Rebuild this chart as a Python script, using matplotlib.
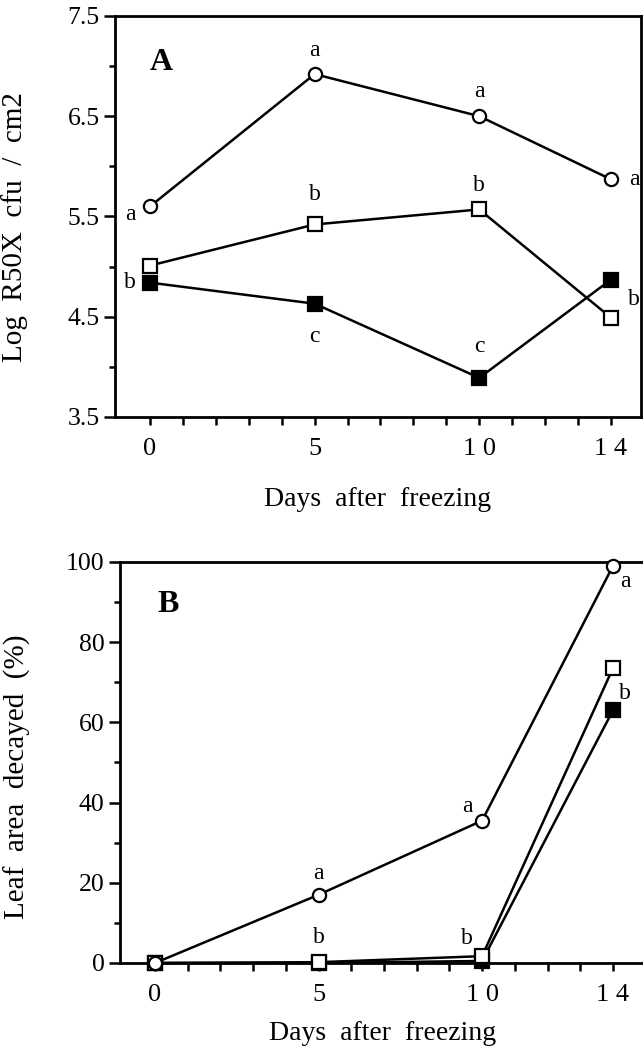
import matplotlib
matplotlib.use("Agg")
import matplotlib.pyplot as plt
import numpy as np

plt.rcParams['font.family'] = ['Liberation Serif', 'DejaVu Serif']

days = [0, 5, 10, 14]

# panel A: log R50X cfu / cm2
a_circle = [5.60, 6.92, 6.50, 5.87]
a_open_sq = [5.01, 5.42, 5.57, 4.49]
a_filled_sq = [4.84, 4.63, 3.89, 4.87]

# panel B: leaf area decayed (%)
b_circle = [0, 17, 35.5, 99]
b_open_sq = [0, 0.2, 1.7, 73.5]
b_filled_sq = [0, 0, 0.5, 63]

# significance letters
a_circle_letters = ['a', 'a', 'a', 'a']
a_open_letters = ['', 'b', 'b', 'b']
a_filled_letters = ['b', 'c', 'c', '']
b_circle_letters = ['', 'a', 'a', 'a']
b_open_letters = ['', 'b', 'b', '']
b_filled_letters = ['', '', '', 'b']

xtick_pos = list(range(15))
xtick_labels = ['0', '', '', '', '', '5', '', '', '', '', '1 0', '', '', '', '1 4']

fig = plt.figure(figsize=(6.43, 10.49), dpi=100)
axA = fig.add_axes([0.1788, 0.6025, 0.818, 0.3823])
axB = fig.add_axes([0.1866, 0.082, 0.8165, 0.3823])

lw = 1.8
ms = 9.5


def draw(ax, ys, marker, face):
    ax.plot(days, ys, color='black', lw=lw, marker=marker, ms=ms,
            mfc=face, mec='black', mew=1.6, clip_on=False, zorder=3)


def letters(ax, ys, labs, offsets):
    for x, y, t, off in zip(days, ys, labs, offsets):
        if t:
            ax.annotate(t, (x, y), xytext=off, textcoords='offset pixels',
                        ha='center', va='center', fontsize=17)


# ---- panel A
draw(axA, a_circle, 'o', 'white')
draw(axA, a_open_sq, 's', 'white')
draw(axA, a_filled_sq, 's', 'black')
letters(axA, a_circle, a_circle_letters, [(-20, -8), (0, 24), (0, 25), (23, 0)])
letters(axA, a_open_sq, a_open_letters, [(0, 0), (0, 30), (0, 24), (23, 18)])
letters(axA, a_filled_sq, a_filled_letters, [(-20, 0), (0, -33), (0, 31), (0, 0)])

axA.set_xlim(-1.064, 14.91)
axA.set_ylim(3.5, 7.5)
axA.set_yticks(np.arange(3.5, 7.6, 1.0))
axA.set_yticklabels(['3.5', '4.5', '5.5', '6.5', '7.5'])
axA.set_yticks(np.arange(4.0, 7.1, 1.0), minor=True)
axA.text(0.089, 0.885, 'A', transform=axA.transAxes, fontsize=23,
         fontweight='bold', ha='center', va='center')
axA.set_ylabel('Log  R50X  cfu  /  cm2', fontsize=21)
axA.yaxis.set_label_coords(-0.165, 0.474)
axA.set_xlabel('Days  after  freezing', fontsize=20)
axA.xaxis.set_label_coords(0.5, -0.205)
axA.xaxis.label.set_va('center')

# ---- panel B
draw(axB, b_filled_sq, 's', 'black')
draw(axB, b_open_sq, 's', 'white')
draw(axB, b_circle, 'o', 'white')
letters(axB, b_circle, b_circle_letters, [(0, 0), (0, 21), (-15, 14), (12, -16)])
letters(axB, b_open_sq, b_open_letters, [(0, 0), (0, 25), (-15, 18), (0, 0)])
letters(axB, b_filled_sq, b_filled_letters, [(0, 0), (0, 0), (0, 0), (12, 17)])

axB.set_xlim(-1.07, 14.98)
axB.set_ylim(0, 100)
axB.set_yticks(np.arange(0, 101, 20))
axB.set_yticks(np.arange(10, 100, 20), minor=True)
axB.text(0.091, 0.895, 'B', transform=axB.transAxes, fontsize=23,
         fontweight='bold', ha='center', va='center')
axB.set_ylabel('Leaf  area  decayed  (%)', fontsize=21)
axB.yaxis.set_label_coords(-0.17, 0.464)
axB.set_xlabel('Days  after  freezing', fontsize=20)
axB.xaxis.set_label_coords(0.5, -0.175)
axB.xaxis.label.set_va('center')

for ax in (axA, axB):
    ax.set_xticks(xtick_pos)
    ax.set_xticklabels(xtick_labels)
    for s in ax.spines.values():
        s.set_linewidth(2.0)
    ax.tick_params(axis='x', which='major', direction='out', length=6,
                   width=1.8, labelsize=19, pad=9)
    ax.tick_params(axis='y', which='major', direction='out', length=8,
                   width=1.8, labelsize=18.5, pad=3)
    ax.tick_params(axis='y', which='minor', direction='out', length=4,
                   width=1.8)

fig.savefig('out.png', dpi=100)
